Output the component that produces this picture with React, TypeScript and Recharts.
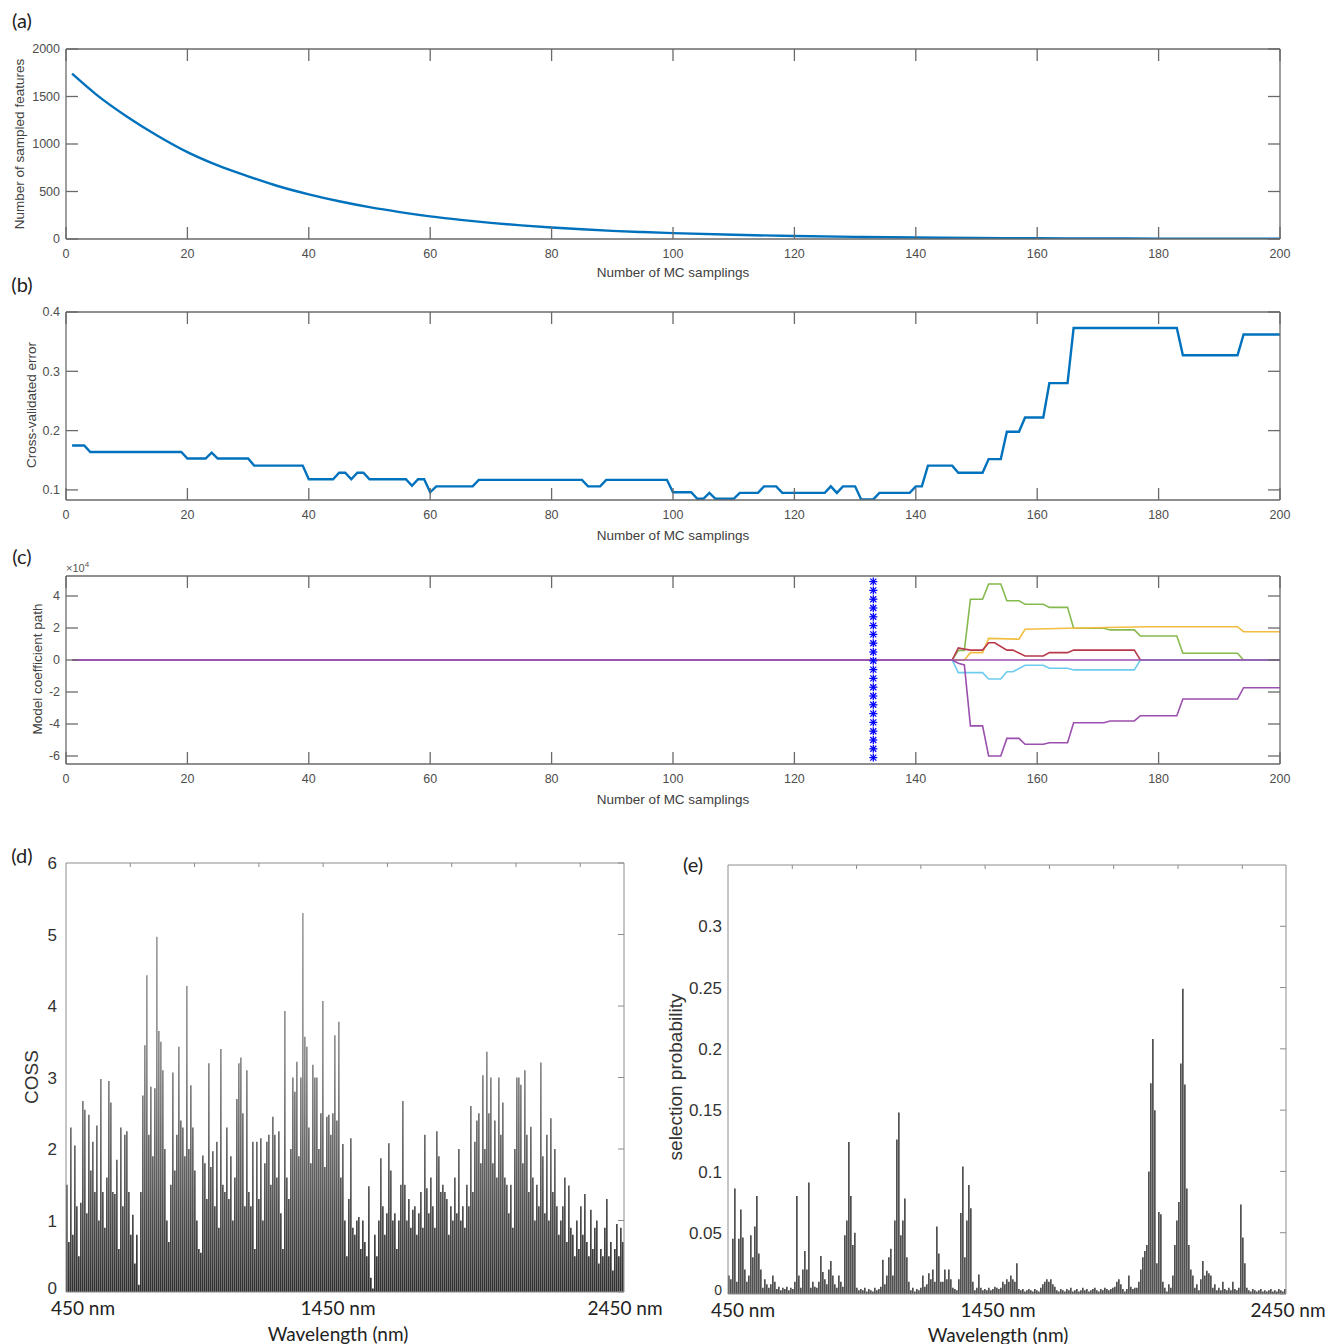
import React from 'react'
import { ComposedChart, BarChart, Bar, Line, Scatter, XAxis, YAxis } from 'recharts'

// (a) number of sampled features per MC sampling run
const aX = [1, 5, 10, 15, 20, 25, 30, 35, 40, 45, 50, 55, 60, 65, 70, 75, 80, 85, 90, 95, 100, 110, 120, 130, 140, 150, 160, 170, 180, 190, 200]
const aY = [1740, 1520, 1290, 1090, 915, 775, 660, 555, 470, 397, 335, 283, 238, 201, 170, 143, 121, 102, 86, 73, 62, 44, 31, 22, 16, 11, 8, 6, 4, 3, 2]

// (b) cross-validated error, break points of the step curve
const bX = [1, 3, 4, 19, 20, 23, 24, 25, 30, 31, 39, 40, 44, 45, 46, 47, 48, 49, 50, 56, 57, 58, 59, 60, 61, 67, 68, 85, 86, 88, 89, 99, 100, 103, 104, 105, 106, 107, 110, 111, 114, 115, 117, 118, 125, 126, 127, 128, 130, 131, 133, 134, 139, 140, 141, 142, 146, 147, 151, 152, 154, 155, 157, 158, 161, 162, 165, 166, 183, 184, 193, 194, 200]
const bY = [0.175, 0.175, 0.164, 0.164, 0.153, 0.153, 0.163, 0.153, 0.153, 0.141, 0.141, 0.118, 0.118, 0.129, 0.129, 0.118, 0.129, 0.129, 0.118, 0.118, 0.107, 0.118, 0.118, 0.096, 0.106, 0.106, 0.117, 0.117, 0.106, 0.106, 0.117, 0.117, 0.096, 0.096, 0.085, 0.085, 0.095, 0.085, 0.085, 0.095, 0.095, 0.106, 0.106, 0.095, 0.095, 0.106, 0.095, 0.106, 0.106, 0.084, 0.084, 0.095, 0.095, 0.106, 0.106, 0.141, 0.141, 0.129, 0.129, 0.152, 0.152, 0.198, 0.198, 0.222, 0.222, 0.28, 0.28, 0.373, 0.373, 0.327, 0.327, 0.362, 0.362]

// (c) coefficient paths, values in units of 10^4
const greenX = [1, 146, 147, 148, 149, 151, 152, 154, 155, 157, 158, 161, 162, 165, 166, 171, 172, 176, 177, 183, 184, 193, 194, 200]
const greenY = [0, 0, 0.6, 0.6, 3.8, 3.8, 4.75, 4.75, 3.7, 3.7, 3.48, 3.48, 3.29, 3.29, 1.98, 1.98, 1.88, 1.88, 1.5, 1.5, 0.42, 0.42, 0, 0]
const yellowX = [1, 148, 149, 151, 152, 157, 158, 165, 178, 193, 194, 200]
const yellowY = [0, 0, 0.46, 0.46, 1.35, 1.3, 1.92, 1.98, 2.08, 2.08, 1.77, 1.77]
const redX = [1, 146, 147, 148, 149, 151, 152, 153, 155, 156, 158, 161, 162, 165, 166, 176, 177, 200]
const redY = [0, 0, 0.75, 0.68, 0.62, 0.62, 1.08, 1.08, 0.62, 0.62, 0.25, 0.25, 0.46, 0.46, 0.62, 0.62, 0, 0]
const cyanX = [1, 146, 147, 151, 152, 154, 155, 156, 158, 161, 162, 165, 166, 176, 177, 200]
const cyanY = [0, 0, -0.79, -0.79, -1.19, -1.19, -0.73, -0.73, -0.33, -0.33, -0.52, -0.52, -0.62, -0.62, 0, 0]
const purpleX = [1, 146, 147, 148, 149, 151, 152, 154, 155, 157, 158, 161, 162, 165, 166, 171, 172, 176, 177, 183, 184, 193, 194, 200]
const purpleY = [0, 0, -0.2, -0.31, -4.12, -4.12, -6.0, -6.0, -4.9, -4.9, -5.27, -5.27, -5.17, -5.17, -3.92, -3.92, -3.81, -3.81, -3.48, -3.48, -2.44, -2.44, -1.73, -1.73]
const zeroX = [1, 200]
const zeroY = [0, 0]
const starX = 133
const starY = [4.9, 4.35, 3.8, 3.25, 2.7, 2.15, 1.6, 1.05, 0.5, -0.05, -0.6, -1.15, -1.7, -2.25, -2.8, -3.35, -3.9, -4.45, -5.0, -5.55, -6.1]

// (d) COSS per wavelength (450 -> 2450 nm)
const coss = [
  1.5, 0.7, 2.3, 0.8, 2.05, 1.2, 0.5, 1.25, 2.67, 2.55,
  1.1, 2.48, 1.7, 2.1, 1.4, 2.33, 1.0, 2.98, 1.4, 0.9,
  1.6, 2.95, 2.65, 1.4, 1.37, 1.85, 0.6, 2.3, 1.2, 2.2,
  2.25, 1.4, 0.8, 1.08, 0.4, 0.8, 0.1, 1.4, 2.75, 3.45,
  4.43, 2.2, 2.87, 1.9, 2.85, 4.97, 3.65, 3.5, 3.1, 2.0,
  1.0, 0.7, 1.5, 3.07, 1.7, 2.2, 3.43, 2.4, 2.3, 1.9,
  4.28, 2.0, 2.89, 2.3, 1.7, 1.0, 0.6, 0.55, 1.91, 1.8,
  1.3, 3.2, 1.75, 1.97, 1.2, 2.1, 0.9, 3.4, 1.5, 1.4,
  2.3, 1.3, 1.9, 1.0, 1.6, 2.7, 3.2, 3.28, 2.5, 1.2,
  3.1, 1.4, 1.2, 2.1, 0.6, 2.1, 1.3, 2.15, 1.0, 1.8,
  2.1, 2.2, 1.5, 2.45, 2.2, 1.6, 2.25, 1.1, 0.6, 3.93,
  1.6, 1.3, 2.0, 3.0, 2.8, 3.22, 1.9, 3.0, 5.3, 3.57,
  3.43, 2.3, 1.8, 3.18, 3.0, 3.0, 2.0, 2.5, 4.07, 1.75,
  2.45, 2.48, 2.2, 2.5, 3.59, 2.4, 3.78, 1.6, 2.07, 1.0,
  0.5, 1.3, 2.15, 0.9, 0.8, 1.0, 1.05, 0.6, 1.0, 0.7,
  0.5, 1.48, 0.2, 0.05, 0.8, 0.5, 1.0, 1.87, 1.2, 0.8,
  1.1, 2.08, 1.7, 1.0, 1.1, 0.6, 1.0, 1.5, 2.67, 1.5,
  1.0, 1.3, 0.9, 1.15, 1.2, 0.8, 1.1, 1.4, 0.9, 2.2,
  1.45, 1.1, 1.6, 1.2, 0.9, 2.25, 1.9, 1.4, 1.5, 1.4,
  1.3, 0.8, 1.2, 1.0, 1.6, 1.1, 2.0, 1.0, 1.2, 0.9,
  1.5, 1.2, 2.6, 1.4, 2.1, 2.4, 2.5, 1.8, 3.03, 2.0,
  3.36, 2.5, 3.0, 1.8, 2.4, 1.6, 3.0, 2.2, 2.65, 1.6,
  1.5, 1.1, 1.5, 0.9, 2.0, 3.0, 3.0, 2.9, 1.8, 3.1,
  2.2, 1.4, 2.31, 1.6, 1.0, 1.5, 1.2, 3.21, 1.9, 1.1,
  2.2, 1.0, 2.43, 1.4, 2.0, 1.2, 0.8, 1.0, 1.2, 1.6,
  0.7, 1.49, 0.9, 0.8, 0.5, 1.0, 0.6, 1.2, 0.8, 1.37,
  0.7, 0.5, 1.15, 0.6, 0.9, 1.0, 0.4, 0.6, 0.5, 0.9,
  1.3, 0.5, 0.7, 0.3, 0.6, 0.95, 0.5, 0.9, 0.7,
]

// (e) selection probability per wavelength
const selProb = [
  0.015, 0.012, 0.045, 0.086, 0.01, 0.045, 0.069, 0.046, 0.02, 0.01,
  0.015, 0.048, 0.03, 0.055, 0.08, 0.033, 0.02, 0.005, 0.012, 0.008,
  0.005, 0.008, 0.015, 0.01, 0.004, 0.006, 0.003, 0.005, 0.004, 0.006,
  0.003, 0.005, 0.004, 0.01, 0.08, 0.015, 0.005, 0.02, 0.035, 0.02,
  0.091, 0.005, 0.01, 0.006, 0.005, 0.01, 0.031, 0.018, 0.012, 0.008,
  0.02, 0.027, 0.015, 0.008, 0.005, 0.015, 0.01, 0.006, 0.048, 0.06,
  0.124, 0.08, 0.04, 0.05, 0.005, 0.003, 0.004, 0.003, 0.005, 0.002,
  0.004, 0.003, 0.002, 0.005, 0.003, 0.004, 0.006, 0.028, 0.008, 0.015,
  0.03, 0.037, 0.015, 0.06, 0.126, 0.148, 0.048, 0.06, 0.078, 0.03,
  0.01, 0.003, 0.005, 0.002, 0.004, 0.003, 0.005, 0.015, 0.006, 0.008,
  0.017, 0.012, 0.02, 0.01, 0.055, 0.033, 0.01, 0.01, 0.02, 0.012,
  0.02, 0.012, 0.005, 0.004, 0.003, 0.012, 0.066, 0.104, 0.03, 0.06,
  0.089, 0.07, 0.01, 0.003, 0.005, 0.016, 0.005, 0.003, 0.004, 0.003,
  0.005, 0.003, 0.004, 0.006, 0.005, 0.004, 0.005, 0.01, 0.008, 0.012,
  0.01, 0.015, 0.012, 0.01, 0.025, 0.004, 0.003, 0.004, 0.002, 0.003,
  0.004, 0.003, 0.002, 0.004, 0.003, 0.002, 0.005, 0.008, 0.01, 0.012,
  0.01, 0.012, 0.008, 0.006, 0.003, 0.002, 0.004, 0.003, 0.002, 0.004,
  0.003, 0.005, 0.002, 0.003, 0.004, 0.002, 0.003, 0.005, 0.003, 0.004,
  0.002, 0.003, 0.004, 0.005, 0.003, 0.002, 0.004, 0.003, 0.005, 0.004,
  0.003, 0.004, 0.005, 0.006, 0.01, 0.012, 0.008, 0.004, 0.002, 0.004,
  0.015, 0.006, 0.004, 0.005, 0.005, 0.01, 0.02, 0.03, 0.035, 0.04,
  0.1, 0.172, 0.208, 0.15, 0.025, 0.067, 0.065, 0.01, 0.005, 0.002,
  0.008, 0.005, 0.015, 0.04, 0.06, 0.075, 0.188, 0.249, 0.171, 0.086,
  0.04, 0.02, 0.015, 0.005, 0.008, 0.003, 0.012, 0.027, 0.015, 0.019,
  0.017, 0.015, 0.005, 0.008, 0.003, 0.005, 0.003, 0.01, 0.004, 0.003,
  0.005, 0.003, 0.01, 0.004, 0.003, 0.005, 0.073, 0.046, 0.025, 0.005,
  0.003, 0.002, 0.004, 0.003, 0.002, 0.003, 0.004, 0.002, 0.003, 0.002,
  0.003, 0.004, 0.002, 0.003, 0.002, 0.004, 0.003, 0.002, 0.004,
]

const MC_TICKS = [0, 20, 40, 60, 80, 100, 120, 140, 160, 180, 200]
const A_TICKS = [0, 500, 1000, 1500, 2000]
const B_TICKS = [0.1, 0.2, 0.3, 0.4]
const C_TICKS = [-6, -4, -2, 0, 2, 4]
const D_TICKS = [0, 1, 2, 3, 4, 5, 6]
const E_TICKS = [0, 0.05, 0.1, 0.15, 0.2, 0.25, 0.3]
// band index ticks drawn along the top of (d) and (e)
const BAND_TICKS = [250, 500, 750, 1000, 1250, 1500, 1750, 2000]

const zip = (xs: number[], ys: number[]) => xs.map((x, i) => ({ x, y: ys[i] }))

const aData = zip(aX, aY)
const bData = zip(bX, bY)
const starData = starY.map((y) => ({ x: starX, y }))
const cosData = coss.map((v, i) => ({ i, v }))
const probData = selProb.map((v, i) => ({ i, v }))

const SANS = '"Liberation Sans", Arial, sans-serif'
const CAL = 'Lato, "Open Sans", sans-serif'
const AX = '#6a6a6a'
const AXL = '#8c8c8c'
const tickText = { fill: '#4d4d4d', fontSize: 12.5, fontFamily: SANS }

// tick marks only, no label (tick={false} would drop the marks too)
const NoLabel = () => <g />

function Star(props: any) {
  const { cx, cy } = props
  return (
    <g stroke="#0000FF" strokeWidth={1.3}>
      <line x1={cx - 4} y1={cy} x2={cx + 4} y2={cy} />
      <line x1={cx} y1={cy - 4} x2={cx} y2={cy + 4} />
      <line x1={cx - 3} y1={cy - 3} x2={cx + 3} y2={cy + 3} />
      <line x1={cx - 3} y1={cy + 3} x2={cx + 3} y2={cy - 3} />
    </g>
  )
}

// left tick labels of (d)/(e): the zero sits a bit higher and smaller
function SpecTick(props: any) {
  const { x, y, payload, small } = props
  const zero = payload.value === 0
  return (
    <text x={x} y={y} dy={zero ? '0.1em' : '0.36em'} textAnchor="end" fill="#333"
      fontSize={zero && small ? 14 : 17} fontFamily={SANS}>
      {payload.value}
    </text>
  )
}

function Label({ x, y, text, size = 13.5, rotate = false, font = SANS, color = '#404040' }: any) {
  return (
    <div
      style={{
        position: 'absolute',
        left: x,
        top: y,
        transform: `translate(-50%, -50%)${rotate ? ' rotate(-90deg)' : ''}`,
        whiteSpace: 'nowrap',
        fontSize: size,
        fontFamily: font,
        color,
        lineHeight: 1,
      }}
    >
      {text}
    </div>
  )
}

// MATLAB-like box: inward ticks on all four sides
function BoxAxes({ yDomain, yTicks, yFmt }: any) {
  return (
    <>
      <XAxis xAxisId="b" type="number" dataKey="x" domain={[0, 200]} ticks={MC_TICKS} interval={0}
        tickSize={-12} tickMargin={22} height={30} stroke={AX} strokeWidth={1.3} tick={tickText} allowDataOverflow />
      <XAxis xAxisId="t" orientation="top" type="number" dataKey="x" domain={[0, 200]} ticks={MC_TICKS} interval={0}
        tick={<NoLabel />} tickSize={-12} height={1} stroke={AX} strokeWidth={1.3} allowDataOverflow />
      <YAxis yAxisId="l" type="number" domain={yDomain} ticks={yTicks} interval={0} tickFormatter={yFmt}
        tickSize={-12} tickMargin={18} width={66} stroke={AX} strokeWidth={1.3} tick={tickText} allowDataOverflow />
      <YAxis yAxisId="r" orientation="right" type="number" domain={yDomain} ticks={yTicks} interval={0}
        tick={<NoLabel />} tickSize={-12} width={1} stroke={AX} strokeWidth={1.3} allowDataOverflow />
    </>
  )
}

export default function App() {
  return (
    <div style={{ position: 'absolute', left: 0, top: 0, width: 1339, height: 1344, background: '#fff', overflow: 'hidden' }}>
      {/* (a) */}
      <div style={{ position: 'absolute', left: 0, top: 0 }}>
        <ComposedChart width={1339} height={290} margin={{ top: 48, right: 58, bottom: 21, left: 0 }}>
          {BoxAxes({ yDomain: [0, 2000], yTicks: A_TICKS })}
          <Line xAxisId="b" yAxisId="l" data={aData} dataKey="y" type="monotone" stroke="#0072BD"
            strokeWidth={2.4} dot={false} isAnimationActive={false} />
        </ComposedChart>
      </div>

      {/* (b) */}
      <div style={{ position: 'absolute', left: 0, top: 290 }}>
        <ComposedChart width={1339} height={260} margin={{ top: 21, right: 58, bottom: 20, left: 0 }}>
          {BoxAxes({ yDomain: [0.083, 0.4], yTicks: B_TICKS })}
          <Line xAxisId="b" yAxisId="l" data={bData} dataKey="y" type="linear" stroke="#0072BD"
            strokeWidth={2.4} dot={false} isAnimationActive={false} />
        </ComposedChart>
      </div>

      {/* (c) */}
      <div style={{ position: 'absolute', left: 0, top: 550 }}>
        <ComposedChart width={1339} height={290} margin={{ top: 25, right: 58, bottom: 46, left: 0 }}>
          {BoxAxes({ yDomain: [-6.5, 5.25], yTicks: C_TICKS, yFmt: (v: number) => String(v) })}
          <Line xAxisId="b" yAxisId="l" data={zip(greenX, greenY)} dataKey="y" type="linear" stroke="#86B94E" strokeWidth={1.6} dot={false} isAnimationActive={false} />
          <Line xAxisId="b" yAxisId="l" data={zip(yellowX, yellowY)} dataKey="y" type="linear" stroke="#F2BE41" strokeWidth={1.6} dot={false} isAnimationActive={false} />
          <Line xAxisId="b" yAxisId="l" data={zip(redX, redY)} dataKey="y" type="linear" stroke="#B8394B" strokeWidth={1.6} dot={false} isAnimationActive={false} />
          <Line xAxisId="b" yAxisId="l" data={zip(cyanX, cyanY)} dataKey="y" type="linear" stroke="#6DCBF0" strokeWidth={1.6} dot={false} isAnimationActive={false} />
          <Line xAxisId="b" yAxisId="l" data={zip(purpleX, purpleY)} dataKey="y" type="linear" stroke="#9B4FAF" strokeWidth={1.6} dot={false} isAnimationActive={false} />
          <Line xAxisId="b" yAxisId="l" data={zip(zeroX, zeroY)} dataKey="y" type="linear" stroke="#9B4FAF" strokeWidth={1.6} dot={false} isAnimationActive={false} />
          <Scatter xAxisId="b" yAxisId="l" data={starData} dataKey="y" shape={<Star />} isAnimationActive={false} />
        </ComposedChart>
      </div>

      {/* (d) */}
      <div style={{ position: 'absolute', left: 0, top: 840 }}>
        <BarChart width={660} height={504} data={cosData} margin={{ top: 22, right: 35, bottom: 50, left: 0 }} barCategoryGap={0}>
          <defs>
            <linearGradient id="cossFill" gradientUnits="userSpaceOnUse" x1="0" y1="23" x2="0" y2="452">
              <stop offset="0" stopColor="#a8a8a8" />
              <stop offset="0.45" stopColor="#8e8e8e" />
              <stop offset="0.75" stopColor="#5a5a5a" />
              <stop offset="1" stopColor="#2e2e2e" />
            </linearGradient>
          </defs>
          <XAxis dataKey="i" tick={false} tickLine={false} height={2} stroke={AXL} />
          <XAxis xAxisId="t" orientation="top" type="number" dataKey="i" domain={[0, 2170]} ticks={BAND_TICKS} interval={0}
            tick={<NoLabel />} tickSize={-4} height={1} stroke={AXL} allowDataOverflow />
          <YAxis type="number" domain={[0, 6]} ticks={D_TICKS} interval={0} tickLine={false} tickSize={0} tickMargin={9}
            width={66} stroke={AXL} tick={<SpecTick />} allowDataOverflow />
          <YAxis yAxisId="r" orientation="right" type="number" domain={[0, 6]} ticks={D_TICKS} interval={0}
            tick={<NoLabel />} tickSize={-6} width={1} stroke={AXL} allowDataOverflow />
          <Bar dataKey="v" fill="url(#cossFill)" barSize={1.7} isAnimationActive={false} />
        </BarChart>
      </div>

      {/* (e) */}
      <div style={{ position: 'absolute', left: 660, top: 840 }}>
        <BarChart width={679} height={504} data={probData} margin={{ top: 24, right: 52, bottom: 48, left: 0 }} barCategoryGap={0}>
          <XAxis dataKey="i" tick={false} tickLine={false} height={2} stroke={AXL} />
          <XAxis xAxisId="t" orientation="top" type="number" dataKey="i" domain={[0, 2170]} ticks={BAND_TICKS} interval={0}
            tick={<NoLabel />} tickSize={-4} height={1} stroke={AXL} allowDataOverflow />
          <YAxis type="number" domain={[0, 0.35]} ticks={E_TICKS} interval={0} tickLine={false} tickSize={0} tickMargin={6}
            width={68} stroke={AXL} tick={<SpecTick small />} allowDataOverflow />
          <YAxis yAxisId="r" orientation="right" type="number" domain={[0, 0.35]} ticks={E_TICKS} interval={0}
            tick={<NoLabel />} tickSize={-6} width={1} stroke={AXL} allowDataOverflow />
          <Bar dataKey="v" fill="#505050" barSize={1.7} isAnimationActive={false} />
        </BarChart>
      </div>

      <Label x={22} y={20} text="(a)" size={20} font={CAL} color="#222" />
      <Label x={22} y={284} text="(b)" size={20} font={CAL} color="#222" />
      <Label x={22} y={556} text="(c)" size={20} font={CAL} color="#222" />
      <Label x={22} y={855} text="(d)" size={20} font={CAL} color="#222" />
      <Label x={693} y={864} text="(e)" size={20} font={CAL} color="#222" />

      <Label x={20} y={144} text="Number of sampled features" rotate />
      <Label x={673} y={273} text="Number of MC samplings" />
      <Label x={32} y={405} text="Cross-validated error" rotate />
      <Label x={673} y={536} text="Number of MC samplings" />
      <Label x={38} y={669} text="Model coefficient path" rotate />
      <Label x={673} y={800} text="Number of MC samplings" />
      <div style={{ position: 'absolute', left: 66, top: 561, fontSize: 11, fontFamily: SANS, color: '#555', lineHeight: 1 }}>
        ×10<sup style={{ fontSize: 8 }}>4</sup>
      </div>

      <Label x={31} y={1077} text="COSS" size={19} rotate color="#333" />
      <Label x={83} y={1307} text="450 nm" size={19} font={CAL} color="#222" />
      <Label x={338} y={1307} text="1450 nm" size={19} font={CAL} color="#222" />
      <Label x={625} y={1307} text="2450 nm" size={19} font={CAL} color="#222" />
      <Label x={338} y={1333} text="Wavelength (nm)" size={19} font={CAL} color="#222" />

      <Label x={675} y={1077} text="selection probability" size={19} rotate color="#333" />
      <Label x={743} y={1309} text="450 nm" size={19} font={CAL} color="#222" />
      <Label x={998} y={1309} text="1450 nm" size={19} font={CAL} color="#222" />
      <Label x={1288} y={1309} text="2450 nm" size={19} font={CAL} color="#222" />
      <Label x={998} y={1334} text="Wavelength (nm)" size={19} font={CAL} color="#222" />
    </div>
  )
}
